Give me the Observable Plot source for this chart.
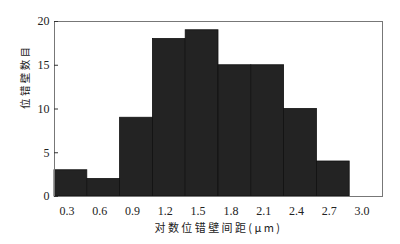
<!DOCTYPE html>
<html><head><meta charset="utf-8">
<script src="https://cdn.jsdelivr.net/npm/d3@7"></script>
<script src="https://cdn.jsdelivr.net/npm/@observablehq/plot@0.6"></script>
<style>
body{margin:0;background:#fff;}
g[aria-label="text"] text{letter-spacing:2.4px;}
</style>
</head><body><div id="chart"></div>
<script>
const binCenters = [0.3, 0.6, 0.9, 1.2, 1.5, 1.8, 2.1, 2.4, 2.7];
const counts = [3, 2, 9, 18, 19, 15, 15, 10, 4];
const xTicks = [0.3, 0.6, 0.9, 1.2, 1.5, 1.8, 2.1, 2.4, 2.7, 3.0];
const yTicks = [0, 5, 10, 15, 20];
const binWidth = 0.3;
const xLabel = "对数位错壁间距(μm)";
const yLabel = "位错壁数目";

const data = binCenters.map((c, i) => ({x1: c - binWidth / 2, x2: c + binWidth / 2, n: counts[i]}));
const serif = "'Liberation Serif','Times New Roman',serif";
const cjk = "'Noto Sans CJK SC',sans-serif";

const chart = Plot.plot({
  width: 400, height: 244,
  marginLeft: 54, marginRight: 18, marginTop: 21, marginBottom: 48,
  style: {fontFamily: serif, fontSize: "12px", background: "#fff", color: "#222"},
  x: {domain: [xTicks[0] - binWidth / 2, xTicks[xTicks.length - 1] + binWidth / 2]},
  y: {domain: [0, 20]},
  marks: [
    Plot.rectY(data, {x1: "x1", x2: "x2", y: "n", fill: "#232323", stroke: "#111", strokeWidth: 0.8}),
    Plot.frame({stroke: "#777", strokeWidth: 1}),
    Plot.axisX({ticks: xTicks, tickFormat: d => d.toFixed(1), tickSize: 0, tickPadding: 10, dx: -4, label: null, fontFamily: serif, fontSize: 12}),
    Plot.axisY({ticks: yTicks, tickSize: -4, tickPadding: 9, label: null, fontFamily: serif, fontSize: 12, stroke: "#333"}),
    Plot.text([xLabel], {frameAnchor: "bottom", dy: 35, text: d => d, fontFamily: cjk, fontSize: 11, fill: "#222"}),
    Plot.text([yLabel], {frameAnchor: "left", dx: -29, rotate: -90, text: d => d, fontFamily: cjk, fontSize: 10.5, fill: "#222"})
  ]
});
document.getElementById("chart").append(chart);
</script>
</body></html>
